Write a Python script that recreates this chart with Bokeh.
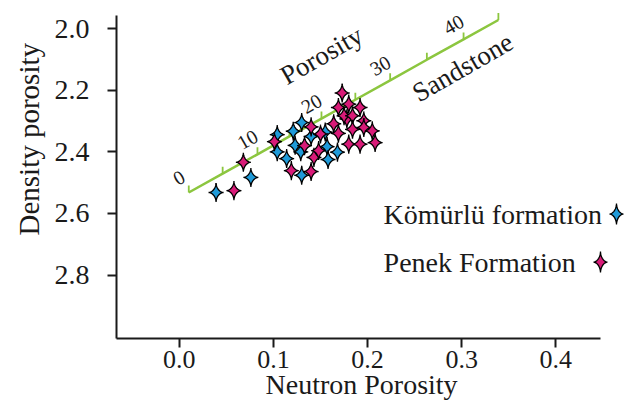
import numpy as np
from bokeh.plotting import figure
from bokeh.models import Range1d, Label, FixedTicker, NumeralTickFormatter, Title
from bokeh.core.properties import value
from bokeh.embed import file_html
from bokeh.resources import INLINE

# Kömürlü formation samples (neutron porosity, bulk density)
komurlu_neutron = [0.039, 0.076, 0.104, 0.121, 0.130, 0.123, 0.104, 0.114,
                   0.129, 0.130, 0.140, 0.155, 0.157, 0.168, 0.158]
komurlu_density = [2.532, 2.483, 2.344, 2.333, 2.305, 2.379, 2.400, 2.422,
                   2.400, 2.476, 2.350, 2.336, 2.383, 2.401, 2.425]

# Penek Formation samples
penek_neutron = [0.058, 0.068, 0.101, 0.119, 0.140, 0.143, 0.148, 0.133,
                 0.140, 0.150, 0.169, 0.178, 0.169, 0.173, 0.180, 0.192,
                 0.175, 0.184, 0.196, 0.184, 0.196, 0.205, 0.180, 0.192,
                 0.208, 0.164]
penek_density = [2.526, 2.434, 2.367, 2.461, 2.464, 2.418, 2.396, 2.380,
                 2.319, 2.342, 2.340, 2.293, 2.256, 2.209, 2.245, 2.256,
                 2.283, 2.283, 2.299, 2.327, 2.321, 2.332, 2.375, 2.375,
                 2.370, 2.309]

# Sandstone porosity scale line (porosity %, neutron, density)
sandstone_porosity = [0, 5, 10, 15, 20, 25, 30, 35, 40, 45]
sandstone_neutron = [0.010, 0.046, 0.083, 0.117, 0.151, 0.187, 0.224, 0.263, 0.302, 0.339]
sandstone_density = [2.532, 2.471, 2.408, 2.350, 2.292, 2.231, 2.168, 2.101, 2.035, 1.972]
sandstone_labels = [0, 10, 20, 30, 40]

x_ticks = [0.0, 0.1, 0.2, 0.3, 0.4]
y_ticks = [2.0, 2.2, 2.4, 2.6, 2.8]

FONT = "Liberation Serif"
INK = "#1a1a1a"
BLUE = "#1f9ad8"
PINK = "#d81b78"
GREEN = "#8cc63f"

W, H = 627, 402
B_LEFT, B_RIGHT, B_TOP, B_BOTTOM = 116, 0, 5, 64
X0, X1 = -0.0668, 0.4762
Y_BOTTOM, Y_TOP = 3.006, 1.925

p = figure(width=W, height=H,
           x_range=Range1d(X0, X1), y_range=Range1d(Y_BOTTOM, Y_TOP),
           output_backend="svg", toolbar_location=None,
           min_border_left=B_LEFT, min_border_right=B_RIGHT,
           min_border_top=B_TOP, min_border_bottom=B_BOTTOM)
p.outline_line_color = None
p.background_fill_color = "white"
p.border_fill_color = "white"
p.xgrid.visible = False
p.ygrid.visible = False

# data units per screen pixel, for drawing the star outlines
frame_w = W - B_LEFT - B_RIGHT
frame_h = H - B_TOP - B_BOTTOM
ux = (X1 - X0) / frame_w
uy = (Y_BOTTOM - Y_TOP) / frame_h


def star_outline(cx, cy, half_w, half_h, power=3.4):
    t = np.linspace(0, 2 * np.pi, 61)
    c, s = np.cos(t), np.sin(t)
    dx = np.sign(c) * np.abs(c) ** power * half_w * ux
    dy = np.sign(s) * np.abs(s) ** power * half_h * uy
    return list(cx + dx), list(cy + dy)


def stars(xs, ys, half_w, half_h):
    outs = [star_outline(x, y, half_w, half_h) for x, y in zip(xs, ys)]
    return [o[0] for o in outs], [o[1] for o in outs]


# sandstone line with its porosity ticks
p.line(sandstone_neutron, sandstone_density, line_color=GREEN, line_width=2.5)
tick_len = 7 * uy
p.segment(x0=sandstone_neutron, y0=sandstone_density,
          x1=sandstone_neutron, y1=[d - tick_len for d in sandstone_density],
          line_color=GREEN, line_width=1.8)

lab_x = [sandstone_neutron[sandstone_porosity.index(v)] for v in sandstone_labels]
lab_y = [sandstone_density[sandstone_porosity.index(v)] for v in sandstone_labels]
p.text(x=lab_x, y=lab_y, text=[str(v) for v in sandstone_labels],
       angle=0.52, x_offset=-10, y_offset=-15,
       text_font=value(FONT), text_font_size="20px", text_color=INK,
       text_align="center", text_baseline="middle")

# sample points
bx, by = stars(komurlu_neutron, komurlu_density, 7.5, 9.5)
px_, py_ = stars(penek_neutron, penek_density, 7.5, 9.5)
p.patches(bx, by, fill_color=BLUE, line_color="black", line_width=1.3)
p.patches(px_, py_, fill_color=PINK, line_color="black", line_width=1.3)

# rotated line annotations
p.add_layout(Label(x=0.151, y=2.087, text="Porosity", angle=0.52,
                   text_font=FONT, text_font_size="27px", text_color=INK,
                   text_align="center", text_baseline="middle"))
p.add_layout(Label(x=0.301, y=2.126, text="Sandstone", angle=0.52,
                   text_font=FONT, text_font_size="27px", text_color=INK,
                   text_align="center", text_baseline="middle"))

# legend
legend_names = ["Kömürlü formation", "Penek Formation"]
legend_colors = [BLUE, PINK]
legend_text_x = 0.217
legend_y = [2.602, 2.758]
legend_star_x = [0.4645, 0.4475]
for name, col, ly, sx in zip(legend_names, legend_colors, legend_y, legend_star_x):
    p.add_layout(Label(x=legend_text_x, y=ly, text=name,
                       text_font=FONT, text_font_size="28px", text_color=INK,
                       text_align="left", text_baseline="middle"))
    lx, lyy = star_outline(sx, ly, 7, 10.5)
    p.patch(lx, lyy, fill_color=col, line_color="black", line_width=1.3)

# axes
p.xaxis.bounds = (X0, 0.4475)
p.yaxis.bounds = (1.9575, Y_BOTTOM)
p.xaxis.ticker = FixedTicker(ticks=x_ticks)
p.yaxis.ticker = FixedTicker(ticks=y_ticks)
p.xaxis.formatter = NumeralTickFormatter(format="0.0")
p.yaxis.formatter = NumeralTickFormatter(format="0.0")
for ax in (p.xaxis, p.yaxis):
    ax.axis_line_width = 2
    ax.axis_line_color = INK
    ax.major_tick_line_width = 2
    ax.major_tick_line_color = INK
    ax.major_tick_out = 9
    ax.major_tick_in = 0
    ax.minor_tick_out = 0
    ax.minor_tick_in = 0
    ax.major_label_text_font = FONT
    ax.major_label_text_color = INK
p.xaxis.major_label_text_font_size = "26px"
p.yaxis.major_label_text_font_size = "28px"
p.xaxis.major_label_standoff = 3
p.yaxis.major_label_standoff = 18

# axis titles
p.add_layout(Title(text="Neutron Porosity", align="left", offset=149,
                   standoff=-8, text_font=FONT, text_font_size="28px",
                   text_font_style="normal", text_color=INK), "below")
p.add_layout(Title(text="Density porosity", align="left", offset=103,
                   standoff=13, text_font=FONT, text_font_size="29px",
                   text_font_style="normal", text_color=INK), "left")

open("out.html", "w").write(file_html(p, INLINE))
